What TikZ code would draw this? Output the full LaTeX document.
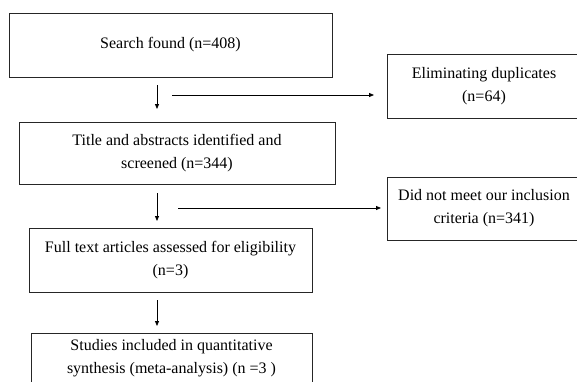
\documentclass[tikz,border=0pt]{standalone}
\usepackage{fontspec}
\setmainfont{Liberation Serif}
\usepackage{tikz}
\usetikzlibrary{positioning}
\usetikzlibrary{arrows.meta}

\begin{document}
\begin{tikzpicture}[x=1pt,y=-1pt,auto,
   box/.style={draw=black!85,line width=0.9pt,inner sep=0pt,align=center,
      font=\fontsize{16}{23}\selectfont},
   arr/.style={line width=0.8pt,-{Triangle[length=5pt,width=4pt]}}]
   \clip (0,0) rectangle (577,381);
   \node[box,minimum width=323pt,minimum height=64pt] (search) at (170.5,45) {Search found (n=408)};
   \node[box,minimum width=316pt,minimum height=62pt] (screen) at (177,153) {Title and abstracts identified and\\screened (n=344)};
   \node[box,minimum width=283pt,minimum height=64pt] (full) at (170.5,260) {Full text articles assessed for eligibility\\(n=3)};
   \node[box,minimum width=281pt,minimum height=51pt] (incl) at (171.5,358.5) {Studies included in quantitative\\synthesis (meta-analysis) (n =3 )};
   \node[box,minimum width=194pt,minimum height=64pt] (dupl) at (484,86) {Eliminating duplicates\\(n=64)};
   \node[box,minimum width=194pt,minimum height=63pt] (excl) at (484,208.5) {Did not meet our inclusion\\criteria (n=341)};
   % arrows
   \coordinate (d1) at (157,85);  \coordinate (d1e) at (157,109);
   \coordinate (d2) at (157,193); \coordinate (d2e) at (157,221);
   \coordinate (d3) at (157,300); \coordinate (d3e) at (157,326);
   \coordinate (h1) at (172,95);  \coordinate (h1e) at (374,95);
   \coordinate (h2) at (178,208); \coordinate (h2e) at (381,208);
   \draw[arr] (d1) -- (d1e);
   \draw[arr] (d2) -- (d2e);
   \draw[arr] (d3) -- (d3e);
   \draw[arr] (h1) -- (h1e);
   \draw[arr] (h2) -- (h2e);
\end{tikzpicture}
\end{document}
